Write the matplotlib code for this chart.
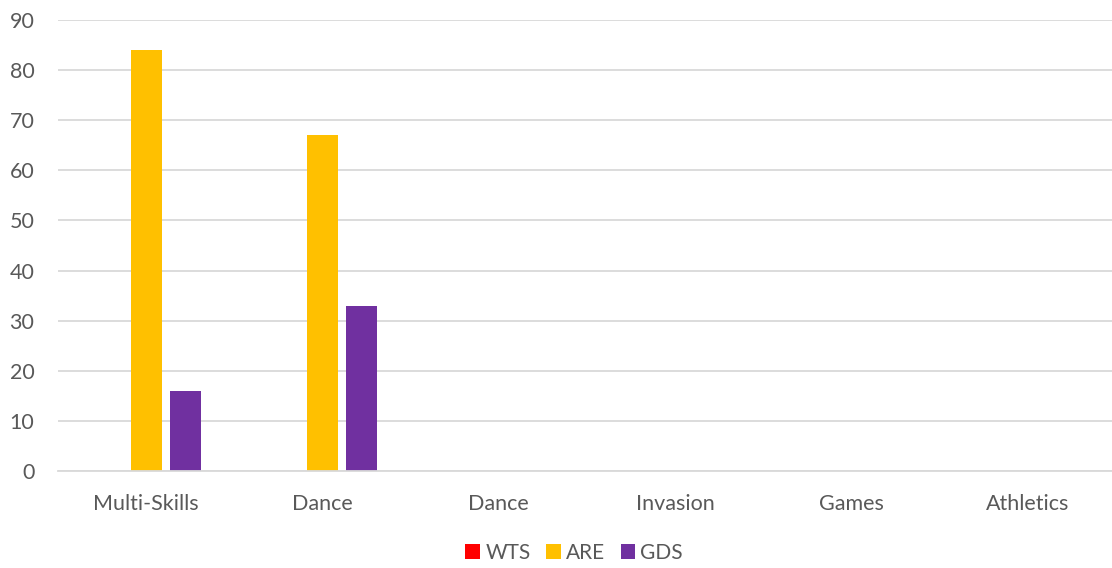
import matplotlib.pyplot as plt
import numpy as np

categories = ["Multi-Skills", "Dance", "Dance", "Invasion", "Games", "Athletics"]
wts = [0, 0, 0, 0, 0, 0]
are = [84, 67, 0, 0, 0, 0]
gds = [16, 33, 0, 0, 0, 0]

plt.rcParams['font.family'] = ['Lato', 'DejaVu Sans']

fig = plt.figure(figsize=(11.12, 5.68), dpi=100)
ax = fig.add_axes([58 / 1112, 1 - 471 / 568, (1116 - 58) / 1112, (471 - 20) / 568])

x = np.arange(len(categories))
w = 0.176
off = 0.221
ax.bar(x - off, wts, w, color="#FF0000", label="WTS")
ax.bar(x, are, w, color="#FFC000", label="ARE")
ax.bar(x + off, gds, w, color="#7030A0", label="GDS")

ax.set_xlim(-0.5, len(categories) - 0.5)
ax.set_ylim(0, 90)
ax.set_yticks(range(0, 91, 10))
ax.set_xticks(x)
ax.set_xticklabels(categories)
ax.yaxis.grid(True, color="#D9D9D9", linewidth=1.3)
ax.set_axisbelow(True)
for s in ["top", "right", "left"]:
    ax.spines[s].set_visible(False)
ax.spines["bottom"].set_color("#D9D9D9")
ax.spines["bottom"].set_linewidth(1.3)
ax.tick_params(axis="both", length=0, labelsize=15.5, labelcolor="#595959")
ax.tick_params(axis="x", pad=16.5)
ax.tick_params(axis="y", pad=17)

ax.legend(loc="center", bbox_to_anchor=(0.488, -0.182), ncol=3, frameon=False,
          fontsize=15, labelcolor="#595959", handlelength=0.7, handleheight=0.7,
          handletextpad=0.25, columnspacing=0.75)

fig.savefig("out.png", dpi=100)
